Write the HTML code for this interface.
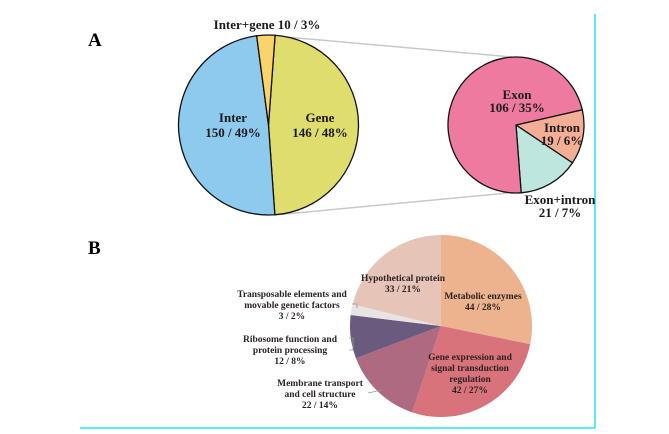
<!DOCTYPE html>
<html><head><meta charset="utf-8"><style>
html,body{margin:0;padding:0;background:#fff;}
svg{display:block;font-family:"Liberation Serif",serif;font-weight:bold;}
</style></head><body>
<svg id="c" width="669" height="434" viewBox="0 0 669 434">
<line x1="595" y1="14" x2="595" y2="428" stroke="#22e5ee" stroke-width="1.5"/>
<line x1="80" y1="428" x2="595" y2="428" stroke="#22e5ee" stroke-width="1.5"/>
<text x="88" y="46" font-size="19">A</text>
<text x="88" y="254" font-size="19">B</text>
<line x1="275" y1="36" x2="512" y2="57" stroke="#c8c8c8" stroke-width="1.5"/>
<line x1="275" y1="215" x2="508" y2="193" stroke="#c8c8c8" stroke-width="1.5"/>
<g id="pa"></g><g id="pb"></g><g id="pc"></g>
<g font-size="13" text-anchor="middle" fill="#1a1a1a">
<text x="267" y="29">Inter+gene 10 / 3%</text>
<text x="233" y="122">Inter</text>
<text x="233" y="137">150 / 49%</text>
<text x="320" y="122">Gene</text>
<text x="320" y="137">146 / 48%</text>
<text x="517" y="99">Exon</text>
<text x="517" y="112">106 / 35%</text>
<text x="562" y="132">Intron</text>
<text x="562" y="145">19 / 6%</text>
<text x="560" y="204">Exon+intron</text>
<text x="560" y="217">21 / 7%</text>
</g>
<g font-size="9.5" text-anchor="middle" fill="#2a2222">
<text x="403" y="281">Hypothetical protein</text>
<text x="403" y="292">33 / 21%</text>
<text x="483" y="299">Metabolic enzymes</text>
<text x="483" y="310">44 / 28%</text>
<text x="292" y="297">Transposable elements and</text>
<text x="292" y="308">movable genetic factors</text>
<text x="292" y="319">3 / 2%</text>
<text x="290" y="342">Ribosome function and</text>
<text x="290" y="353">protein processing</text>
<text x="290" y="364">12 / 8%</text>
<text x="320" y="386">Membrane transport</text>
<text x="320" y="397">and cell structure</text>
<text x="320" y="408">22 / 14%</text>
<text x="470" y="360">Gene expression and</text>
<text x="470" y="371">signal transduction</text>
<text x="470" y="382">regulation</text>
<text x="470" y="393">42 / 27%</text>
</g>
<g stroke="#999" fill="none" stroke-width="0.8">
<path d="M352 304 h5 v4"/>
<path d="M349 338 h4 v12 h-4"/>
<path d="M368 393 L382 390"/>
</g>
</svg>
<script>
const aNames=["gene","inter","inter-gene"];
const aValues=[146,150,10];
const aColors=["#dedd6e","#8ec9ee","#f8d46a"];
const cNames=["intron","exon-intron","exon"];
const cValues=[19,21,106];
const cColors=["#f4ae96","#bde6df","#ee7aa0"];
const bNames=["metabolic","gene-expression","membrane","ribosome","transposable","hypothetical"];
const bValues=[44,42,22,12,3,33];
const bColors=["#edb28e","#d8727b","#ad6a80","#6a5a7e","#e8e4e2","#e6c4b8"];
const NS="http://www.w3.org/2000/svg";
function pie(gid,vals,cols,names,cx,cy,r,start,stroke){
  const g=document.getElementById(gid);
  const tot=vals.reduce((a,b)=>a+b,0);
  let a=start*Math.PI/180;
  vals.forEach((v,i)=>{
    const s=v/tot*2*Math.PI, e=a+s;
    const x1=cx+r*Math.cos(a),y1=cy+r*Math.sin(a),x2=cx+r*Math.cos(e),y2=cy+r*Math.sin(e);
    const p=document.createElementNS(NS,"path");
    p.setAttribute("d",`M${cx},${cy} L${x1},${y1} A${r},${r} 0 ${s>Math.PI?1:0} 1 ${x2},${y2} Z`);
    p.setAttribute("fill",cols[i]);
    if(stroke){p.setAttribute("stroke","#111");p.setAttribute("stroke-width","1.3");}
    
    
    g.appendChild(p);
    a=e;
  });
}
pie("pa",aValues,aColors,aNames,268.5,125,90,-85.8,true);
pie("pc",cValues,cColors,cNames,516,125,68,-13,true);
pie("pb",bValues,bColors,bNames,441,326,91,-90,false);
</script>
</body></html>
